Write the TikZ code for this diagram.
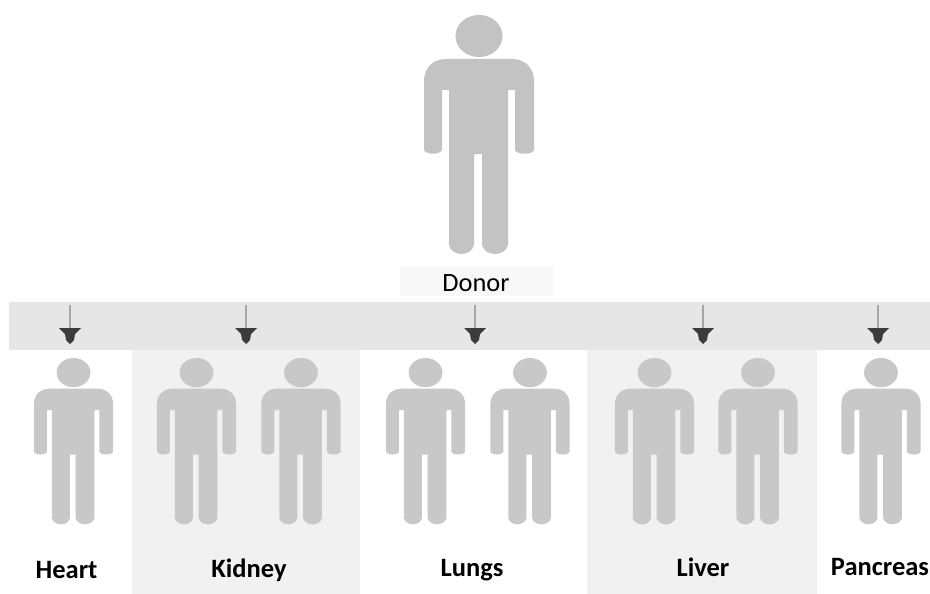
\documentclass[tikz,border=0pt]{standalone}
\usepackage{fontspec}
\setmainfont{Carlito}
\usetikzlibrary{arrows.meta}
\definecolor{fig}{HTML}{C3C3C3}
\definecolor{smallfig}{HTML}{C8C8C8}
\definecolor{bandc}{HTML}{E6E6E6}
\definecolor{panelc}{HTML}{F1F1F1}
\definecolor{labelbg}{HTML}{F8F8F8}
\definecolor{headc}{HTML}{3C3C3C}
\definecolor{shaftc}{HTML}{A6A6A6}
\tikzset{
  x=1pt,y=-1pt,
  person/.style={fill=#1,draw=none},
  organ/.style={font=\fontsize{26.5}{28}\selectfont\bfseries,text=black,inner sep=0pt},
  donorlabel/.style={font=\fontsize{26.4}{28}\selectfont,text=black,inner sep=0pt},
  shaft/.style={draw=shaftc,line width=1.2pt},
  tip/.style={fill=headc,draw=none},
}
% figure drawn in the donor's own pixel coordinates, centred on x=0, top at y=0
\newcommand{\personfig}[5]{%
  \begin{scope}[shift={(#1,#2)},xscale=#3,yscale=#4]
    \fill[person=#5] (0,21) ellipse[x radius=23.5,y radius=21];
    \fill[person=#5] (-55,66)
      .. controls (-55,54) and (-47,44) .. (-33,44)
      -- (33,44)
      .. controls (47,44) and (55,54) .. (55,66)
      -- (55,135) .. controls (53,140) and (38,140) .. (36,135)
      -- (36,75) -- (29,75) -- (29,230)
      .. controls (26,242) and (6,242) .. (3,230)
      -- (3,139) -- (-5,139) -- (-5,230)
      .. controls (-8,242) and (-27,242) .. (-30,230)
      -- (-30,75) -- (-37,75) -- (-37,135)
      .. controls (-39,140) and (-53,140) .. (-55,135) -- cycle;
  \end{scope}}
\newcommand{\downarrowmark}[2]{%
  \coordinate (#1s) at (#2,305);
  \coordinate (#1e) at (#2,344);
  \draw[shaft] (#1s) -- (#2,330);
  \fill[tip] (#2-11,328) -- (#2+11,328) -- (#2+5,334) -- (#2+4,340) -- (#1e) -- (#2-4,340) -- (#2-5,334) -- cycle;}
\begin{document}
\begin{tikzpicture}
\useasboundingbox (0,0) rectangle (930,594);
\fill[white] (0,0) rectangle (930,594);
\fill[panelc] (132,350) rectangle (360,594);
\fill[panelc] (587,350) rectangle (817,594);
\fill[bandc] (9,302) rectangle (930,350);
\fill[labelbg] (400,266) rectangle (553,296);
\personfig{479}{15}{1}{1}{fig}
\personfig{73.5}{358}{.72}{.696}{smallfig}
\personfig{196.5}{358}{.72}{.696}{smallfig}
\personfig{301}{358}{.72}{.696}{smallfig}
\personfig{425.5}{358}{.72}{.696}{smallfig}
\personfig{530}{358}{.72}{.696}{smallfig}
\personfig{654.5}{358}{.72}{.696}{smallfig}
\personfig{758}{358}{.72}{.696}{smallfig}
\personfig{881}{358}{.72}{.696}{smallfig}
\downarrowmark{aa}{70}
\downarrowmark{ab}{246}
\downarrowmark{ac}{475}
\downarrowmark{ad}{703}
\downarrowmark{ae}{878}
\node[donorlabel] (donor) at (476,283) {Donor};
\node[organ] (heart) at (66.5,570) {Heart};
\node[organ] (kidney) at (249,570) {Kidney};
\node[organ] (lungs) at (472,570) {Lungs};
\node[organ] (liver) at (703,567) {Liver};
\node[organ] (pancreas) at (880,567) {Pancreas};
\end{tikzpicture}
\end{document}
